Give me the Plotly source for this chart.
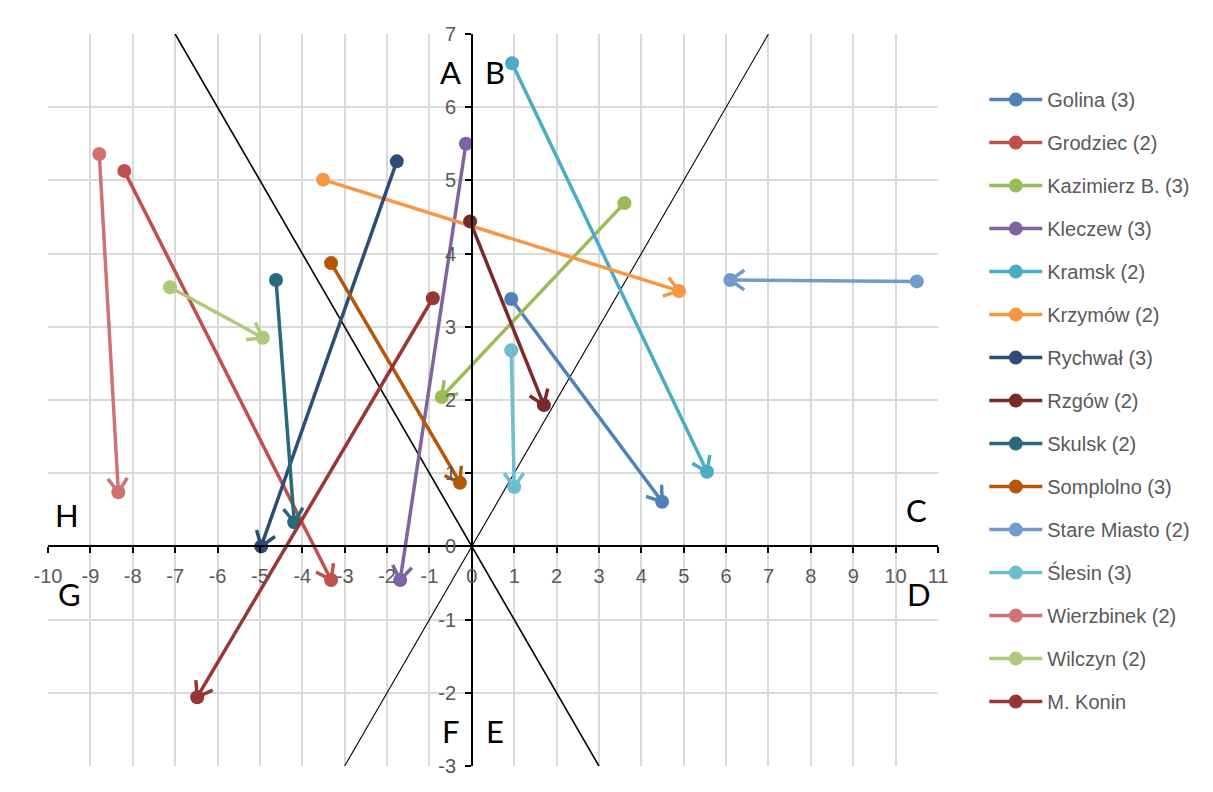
import math
import plotly.graph_objects as go

# migration arrows: start point -> end point
names = ["Golina (3)", "Grodziec (2)", "Kazimierz B. (3)", "Kleczew (3)", "Kramsk (2)",
         "Krzymów (2)", "Rychwał (3)", "Rzgów (2)", "Skulsk (2)", "Somplolno (3)",
         "Stare Miasto (2)", "Ślesin (3)", "Wierzbinek (2)", "Wilczyn (2)", "M. Konin"]
x_start = [0.93, -8.20, 3.60, -0.14, 0.95, -3.51, -1.77, -0.04, -4.62, -3.32, 10.50, 0.93, -8.79, -7.12, -0.92]
y_start = [3.38, 5.13, 4.69, 5.50, 6.60, 5.01, 5.26, 4.44, 3.64, 3.87, 3.62, 2.68, 5.36, 3.54, 3.39]
x_end = [4.49, -3.32, -0.71, -1.69, 5.55, 4.89, -4.97, 1.70, -4.19, -0.28, 6.10, 1.00, -8.34, -4.93, -6.48]
y_end = [0.61, -0.46, 2.04, -0.46, 1.02, 3.49, 0.00, 1.93, 0.33, 0.87, 3.64, 0.81, 0.74, 2.85, -2.06]
colors = ["#4F81BD", "#C0504D", "#9BBB59", "#8064A2", "#4BACC6",
          "#F79646", "#2C4D75", "#772C2A", "#276A7C", "#B65708",
          "#729ACA", "#6FBDD1", "#CD7371", "#AFC97A", "#953735"]

# the two black guide lines through the origin
guide_x = [[-7, 3], [-3, 7]]
guide_y = [[7, -3], [-3, 7]]
guide_w = [1.6, 1.1]

# sector letters
sector_text = ["A", "B", "C", "D", "E", "F", "G", "H"]
sector_x = [-0.51, 0.55, 10.5, 10.55, 0.55, -0.49, -9.5, -9.55]
sector_y = [6.48, 6.48, 0.5, -0.65, -2.52, -2.52, -0.65, 0.43]

x_range = [-10, 11]
y_range = [-3, 7]
x_ticks = list(range(x_range[0], x_range[1] + 1))
y_ticks = list(range(y_range[0], y_range[1] + 1))

W, H = 1205, 784
ML, MR, MT, MB = 40, 275, 26, 26
kx = (W - ML - MR) / (x_range[1] - x_range[0])   # px per unit
ky = (H - MT - MB) / (y_range[1] - y_range[0])

fig = go.Figure()

for gx, gy, gw in zip(guide_x, guide_y, guide_w):
    fig.add_trace(go.Scatter(x=gx, y=gy, mode="lines", line=dict(color="black", width=gw),
                             showlegend=False, hoverinfo="skip"))

wing_len = 17
wing_ang = math.radians(35)
for i in range(len(names)):
    c = colors[i]
    fig.add_trace(go.Scatter(
        x=[x_start[i], x_end[i]], y=[y_start[i], y_end[i]], mode="lines+markers",
        name=names[i], legendgroup=names[i],
        line=dict(color=c, width=3.5), marker=dict(color=c, size=14)))
    # open arrow head at the end point
    dx = (x_end[i] - x_start[i]) * kx
    dy = (y_end[i] - y_start[i]) * ky
    n = math.hypot(dx, dy)
    ux, uy = dx / n, dy / n
    wx, wy = [], []
    for s in (1, -1):
        a = s * wing_ang
        rx = ux * math.cos(a) - uy * math.sin(a)
        ry = ux * math.sin(a) + uy * math.cos(a)
        wx.append(x_end[i] - wing_len * rx / kx)
        wy.append(y_end[i] - wing_len * ry / ky)
    fig.add_trace(go.Scatter(
        x=[wx[0], x_end[i], wx[1]], y=[wy[0], y_end[i], wy[1]], mode="lines",
        line=dict(color=c, width=3.5), showlegend=False, legendgroup=names[i], hoverinfo="skip"))

for t, tx, ty in zip(sector_text, sector_x, sector_y):
    fig.add_annotation(x=tx, y=ty, text=t, showarrow=False,
                       font=dict(family="Lato, Noto Sans", size=31, color="black"))

tick_font = dict(family="Liberation Sans", size=20, color="#595959")
fig.update_xaxes(range=x_range, tickvals=x_ticks, ticktext=[str(v) for v in x_ticks],
                 showgrid=True, gridcolor="#D9D9D9", gridwidth=1.5,
                 zeroline=False, showline=True, linecolor="black", linewidth=1.5,
                 ticks="outside", ticklen=6, tickwidth=1.5, tickcolor="black",
                 ticklabelstandoff=6,
                 anchor="free", position=(0 - y_range[0]) / (y_range[1] - y_range[0]),
                 tickfont=tick_font)
fig.update_yaxes(range=y_range, tickvals=y_ticks, ticktext=[str(v) for v in y_ticks],
                 showgrid=True, gridcolor="#D9D9D9", gridwidth=1.5,
                 zeroline=False, showline=True, linecolor="black", linewidth=1.5,
                 ticks="outside", ticklen=6, tickwidth=1.5, tickcolor="black",
                 ticklabelstandoff=5,
                 anchor="free", position=(0 - x_range[0]) / (x_range[1] - x_range[0]),
                 tickfont=tick_font)

fig.update_layout(
    width=W, height=H,
    margin=dict(l=ML, r=MR, t=MT, b=MB),
    plot_bgcolor="white", paper_bgcolor="white",
    legend=dict(x=1.052, y=0.937, xanchor="left", yanchor="top",
                traceorder="grouped", tracegroupgap=14, itemwidth=53,
                font=dict(family="Liberation Sans", size=20, color="#595959")),
)

fig.write_html("out.html")
